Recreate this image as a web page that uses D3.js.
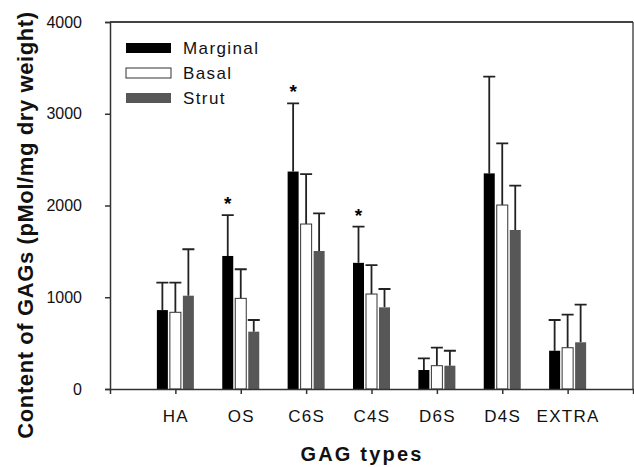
<!DOCTYPE html>
<html>
<head>
<meta charset="utf-8">
<script src="https://cdn.jsdelivr.net/npm/d3@7"></script>
<style>
    body { margin: 0; background: #fff; }
    svg { display: block; font-family: "Liberation Sans", Arial, sans-serif; }
</style>
</head>
<body>
<div id="chart"></div>
<script>
// GAG content by tissue region
const categories = ['HA', 'OS', 'C6S', 'C4S', 'D6S', 'D4S', 'EXTRA'];
const seriesNames = ['Marginal', 'Basal', 'Strut'];
const marginal = [860, 1450, 2370, 1375, 207, 2350, 417];
const basal = [836, 988, 1798, 1035, 254, 2005, 450];
const strut = [1017, 625, 1504, 890, 254, 1733, 509];
const marginalErr = [1160, 1896, 3114, 1769, 334, 3404, 752];
const basalErr = [1160, 1305, 2343, 1351, 450, 2678, 810];
const strutErr = [1523, 752, 1915, 1090, 417, 2216, 919];
const significant = ['OS', 'C6S', 'C4S'];
const yTicks = [0, 1000, 2000, 3000, 4000];

const seriesValues = [marginal, basal, strut];
const seriesErrors = [marginalErr, basalErr, strutErr];
const seriesFill = ['#000000', '#ffffff', '#575757'];

const width = 634, height = 467;
const margin = { top: 22, right: 1, bottom: 78, left: 110 };
const plotW = width - margin.left - margin.right;
const plotH = height - margin.top - margin.bottom;

const svg = d3.select('#chart').append('svg')
    .attr('width', width)
    .attr('height', height);

const g = svg.append('g').attr('transform', `translate(${margin.left},${margin.top})`);

const x = d3.scalePoint().domain(categories).range([0, plotW]).padding(1);
const offset = d3.scalePoint().domain(seriesNames).range([-13, 13]);
const y = d3.scaleLinear().domain([0, 4000]).range([plotH, 0]);
const barW = 11;

// frame (top + right)
g.append('line').attr('x1', 0).attr('x2', plotW).attr('y1', 0).attr('y2', 0)
    .attr('stroke', '#444').attr('stroke-width', 2);
g.append('line').attr('x1', plotW).attr('x2', plotW).attr('y1', 0).attr('y2', plotH)
    .attr('stroke', '#222').attr('stroke-width', 1.2);

// bars + error bars
seriesNames.forEach((name, si) => {
    const rows = categories.map((c, i) => ({ c, v: seriesValues[si][i], e: seriesErrors[si][i] }));
    const cx = d => x(d.c) + offset(name);

    g.selectAll(`.err-${si}`)
        .data(rows)
        .join('path')
        .attr('fill', 'none')
        .attr('stroke', '#222')
        .attr('stroke-width', 1.8)
        .attr('d', d => `M${cx(d)},${y(d.v)}V${y(d.e)}M${cx(d) - 6},${y(d.e)}H${cx(d) + 6}`);

    g.selectAll(`.bar-${si}`)
        .data(rows)
        .join('rect')
        .attr('x', d => cx(d) - barW / 2)
        .attr('y', d => y(d.v))
        .attr('width', barW)
        .attr('height', d => y(0) - y(d.v))
        .attr('fill', seriesFill[si])
        .attr('stroke', si === 1 ? '#333' : 'none')
        .attr('stroke-width', 1);
});

// significance stars above marginal error caps
g.selectAll('.star')
    .data(significant)
    .join('text')
    .attr('x', d => x(d) + offset('Marginal'))
    .attr('y', d => y(marginalErr[categories.indexOf(d)]) - 5)
    .attr('text-anchor', 'middle')
    .attr('font-size', 19)
    .attr('font-weight', 'bold')
    .text('*');

// axes
const yAxis = g.append('g')
    .call(d3.axisLeft(y).tickValues(yTicks).tickFormat(d3.format('d')).tickSize(5).tickPadding(23));
const xAxis = g.append('g').attr('transform', `translate(0,${plotH})`)
    .call(d3.axisBottom(x).tickSize(5).tickPadding(16));

[yAxis, xAxis].forEach(a => {
    a.select('.domain').attr('stroke', '#333').attr('stroke-width', 1.5);
    a.selectAll('.tick line').attr('stroke', '#333').attr('stroke-width', 1.5);
    a.selectAll('.tick text').attr('fill', '#111').attr('font-size', 16)
        .attr('font-family', '"Liberation Sans", Arial, sans-serif');
});
xAxis.selectAll('.tick text').attr('font-size', 17).style('letter-spacing', '1.3px');

// axis titles
svg.append('text')
    .attr('transform', `translate(33,225) rotate(-90)`)
    .attr('text-anchor', 'middle')
    .attr('font-size', 22)
    .attr('font-weight', 'bold')
    .style('letter-spacing', '0.6px')
    .attr('fill', '#111')
    .text('Content of GAGs (pMol/mg dry weight)');

svg.append('text')
    .attr('x', 362)
    .attr('y', 461)
    .attr('text-anchor', 'middle')
    .attr('font-size', 20)
    .attr('font-weight', 'bold')
    .style('letter-spacing', '2.2px')
    .attr('fill', '#111')
    .text('GAG types');

// legend
const legend = g.append('g').attr('transform', 'translate(16,21)');
const item = legend.selectAll('g')
    .data(seriesNames)
    .join('g')
    .attr('transform', (d, i) => `translate(0,${i * 25})`);
item.append('rect')
    .attr('width', 45)
    .attr('height', 10)
    .attr('fill', (d, i) => seriesFill[i])
    .attr('stroke', (d, i) => i === 1 ? '#333' : 'none');
item.append('text')
    .attr('x', 57)
    .attr('y', 11)
    .attr('font-size', 17)
    .style('letter-spacing', '1.4px')
    .attr('fill', '#111')
    .text(d => d);
</script>
</body>
</html>
